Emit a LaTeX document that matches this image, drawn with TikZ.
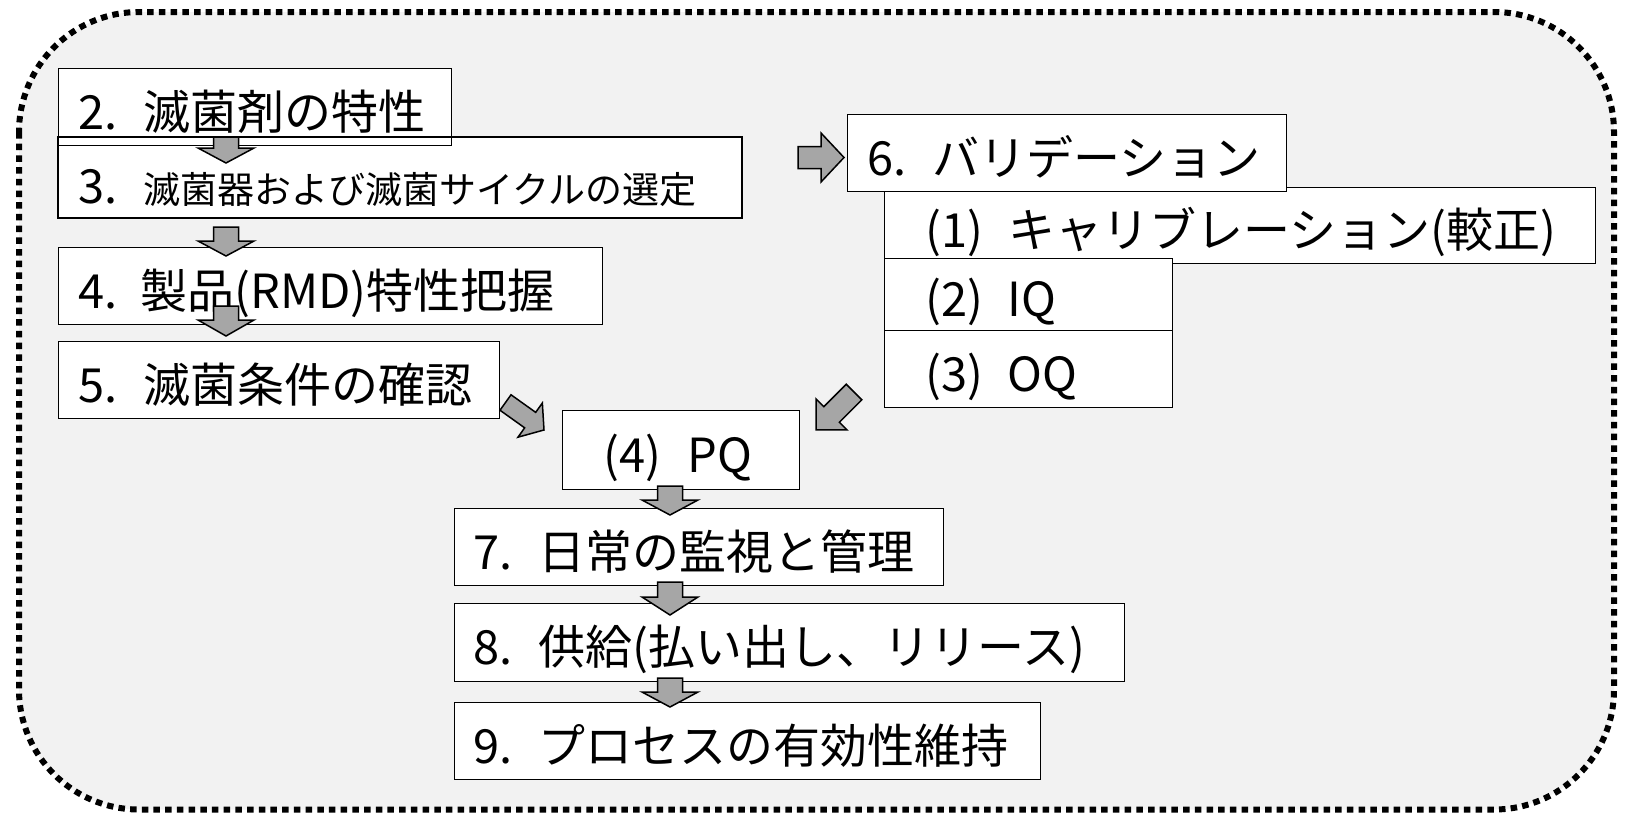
\documentclass[tikz,border=0pt]{standalone}
\usepackage{fontspec}
\setmainfont{Noto Sans CJK JP}
\definecolor{bggray}{RGB}{242,242,242}
\definecolor{arrgray}{RGB}{166,166,166}
\newcommand\lbl[2]{\makebox[#1][l]{#2}}
% tail x, tail y, angle, length, shaft half width, head half width, head length
\newcommand\barrow[7]{\draw[arrstyle,shift={(#1,#2)},rotate=#3] (0,#5) -- ({#4-#7},#5) -- ({#4-#7},#6) -- (#4,0) -- ({#4-#7},-#6) -- ({#4-#7},-#5) -- (0,-#5) -- cycle;}
\tikzset{
  box/.style={draw=black, fill=white, line width=1.4pt, anchor=north west,
    inner ysep=0pt, text height=46pt, text depth=2pt,
    font=\fontsize{47}{52}\selectfont},
  arrstyle/.style={draw=black, fill=arrgray, line width=1.5pt, line join=miter},
  frame/.style={draw=black, fill=bggray, line width=6pt, dash pattern=on 6.5pt off 5.2pt, rounded corners=120pt}
}
\begin{document}
\begin{tikzpicture}[x=1pt,y=-1pt]
\useasboundingbox (0,0) rectangle (1626,812);
\fill[white] (0,0) rectangle (1626,812);
\path[frame] (19,12) rectangle (1614,809.5);

% left column
\node[box, minimum width=683pt, minimum height=80pt, inner xsep=20pt, text height=54pt] (b3) at (58,137)
  {\makebox[643pt][l]{\lbl{65pt}{3.}{\fontsize{37}{40}\selectfont 滅菌器および滅菌サイクルの選定}}};
\node[box, minimum width=393pt, minimum height=77pt, inner xsep=20pt] (b2) at (58,68)
  {\makebox[353pt][l]{\lbl{65pt}{2.}滅菌剤の特性}};
\draw[line width=1.4pt] (b3.north west) rectangle (b3.south east);
\node[box, minimum width=544pt, minimum height=77pt, inner xsep=20pt] (b4) at (58,247)
  {\makebox[504pt][l]{\lbl{62pt}{4.}製品(RMD)特性把握}};
\node[box, minimum width=441pt, minimum height=77pt, inner xsep=20pt] (b5) at (58,341)
  {\makebox[401pt][l]{\lbl{65pt}{5.}滅菌条件の確認}};

% validation column
\node[box, minimum width=711pt, minimum height=76pt, inner xsep=41pt] (c1) at (884,187)
  {\makebox[629pt][l]{\lbl{83pt}{(1)}キャリブレーション(較正)}};
\node[box, minimum width=439pt, minimum height=77pt, inner xsep=20pt] (b6) at (847,114)
  {\makebox[399pt][l]{\lbl{65pt}{6.}バリデーション}};
\node[box, minimum width=288pt, minimum height=72pt, inner xsep=41pt] (c2) at (884,258)
  {\makebox[206pt][l]{\lbl{82pt}{(2)}IQ}};
\node[box, minimum width=288pt, minimum height=77pt, inner xsep=41pt] (c3) at (884,330)
  {\makebox[206pt][l]{\lbl{82pt}{(3)}OQ}};

% lower column
\node[box, minimum width=237pt, minimum height=79pt, inner xsep=41pt] (pq) at (562,410)
  {\makebox[155pt][l]{\lbl{84pt}{(4)}PQ}};
\node[box, minimum width=489pt, minimum height=77pt, inner xsep=19pt] (b7) at (454,508)
  {\makebox[451pt][l]{\lbl{65pt}{7.}日常の監視と管理}};
\node[box, minimum width=670pt, minimum height=78pt, inner xsep=19pt] (b8) at (454,603)
  {\makebox[632pt][l]{\lbl{65pt}{8.}供給(払い出し、リリース)}};
\node[box, minimum width=586pt, minimum height=77pt, inner xsep=19pt] (b9) at (454,702)
  {\makebox[548pt][l]{\lbl{65pt}{9.}プロセスの有効性維持}};

% block arrows
\barrow{226}{137}{-90}{26}{12.5}{28}{15}
\barrow{226}{227}{-90}{29}{12.5}{28}{15}
\barrow{226}{306}{-90}{30}{12.5}{28}{16}
\barrow{798}{157.5}{0}{46}{11}{24.5}{23}
\barrow{505.5}{402.5}{-35.5}{47.3}{9.5}{21}{17}
\barrow{854}{392}{-135}{53.7}{11}{22}{22}
\barrow{670}{486}{-90}{29}{12.5}{28}{15}
\barrow{670}{582}{-90}{33}{12.5}{28}{18}
\barrow{670}{678}{-90}{29}{12.5}{28}{15}
\end{tikzpicture}
\end{document}
